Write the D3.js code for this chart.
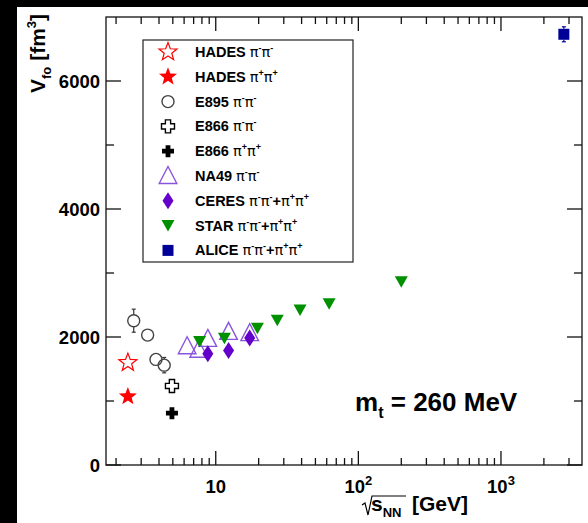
<!DOCTYPE html>
<html><head><meta charset="utf-8">
<script src="https://cdn.jsdelivr.net/npm/d3@7"></script>
<style>
body{margin:0;background:#fff}
svg{display:block}
text{font-family:"Liberation Sans",Arial,Helvetica,sans-serif;font-weight:bold;fill:#000}
</style>
</head><body>
<svg id="chart" width="588" height="523"></svg>
<script>
// Freeze-out volume V_fo (fm^3) versus collision energy sqrt(s_NN) (GeV)
const hadesMmE = [2.42], hadesMmV = [1600];
const hadesPpE = [2.42], hadesPpV = [1070];
const e895E = [2.66, 3.33, 3.81, 4.35], e895V = [2255, 2030, 1650, 1560], e895Err = [180, 50, 50, 120];
const e866MmE = [4.93], e866MmV = [1235], e866MmErr = [60];
const e866PpE = [4.93], e866PpV = [810];
const na49E = [6.3, 7.6, 8.8, 12.3, 17.3], na49V = [1855, 1800, 1970, 2080, 2060];
const ceresE = [8.8, 12.3, 17.3], ceresV = [1740, 1790, 1985];
const starE = [7.7, 11.5, 19.6, 27, 39, 62.4, 200], starV = [1930, 1980, 2135, 2260, 2420, 2520, 2865];
const aliceE = [2760], aliceV = [6730], aliceErr = [117];

const legendLabels = [
  "HADES π^{-}π^{-}", "HADES π^{+}π^{+}", "E895 π^{-}π^{-}", "E866 π^{-}π^{-}",
  "E866 π^{+}π^{+}", "NA49 π^{-}π^{-}", "CERES π^{-}π^{-}+π^{+}π^{+}",
  "STAR π^{-}π^{-}+π^{+}π^{+}", "ALICE π^{-}π^{-}+π^{+}π^{+}"
];
const legendMarkers = ["starOpen", "starFull", "circle", "crossOpen", "crossFull", "triOpen", "diamond", "triDown", "square"];

const yTicksMajor = [0, 2000, 4000, 6000];
const yTicksMinor = [1000, 3000, 5000];
const xTicksMajor = [10, 100, 1000];
const xTickLabels = [["10", ""], ["10", "2"], ["10", "3"]];

const svg = d3.select("#chart");
const L = 106, R = 582, T = 17, B = 465;
const x = d3.scaleLog().domain([1.7, 3700]).range([L, R]);
const y = d3.scaleLinear().domain([0, 7000]).range([B, T]);

// page border strips
svg.append("rect").attr("x", 0).attr("y", 0).attr("width", 588).attr("height", 523).attr("fill", "#fff");
svg.append("rect").attr("x", 0).attr("y", 0).attr("width", 17).attr("height", 523).attr("fill", "#000");
svg.append("rect").attr("x", 0).attr("y", 0).attr("width", 588).attr("height", 7).attr("fill", "#000");

// frame
svg.append("rect").attr("x", L).attr("y", T).attr("width", R - L).attr("height", B - T)
  .attr("fill", "none").attr("stroke", "#111").attr("stroke-width", 1.3);

// ticks on all four sides, pointing inward
const xMinor = [];
[1, 10, 100, 1000].forEach(d => { for (let k = 2; k <= 9; k++) { const v = d * k; if (v > 1.7 && v < 3700) xMinor.push(v); } });
const tk = svg.append("g").attr("stroke", "#111").attr("stroke-width", 1.3);
xMinor.forEach(v => {
  tk.append("line").attr("x1", x(v)).attr("x2", x(v)).attr("y1", B).attr("y2", B - 7);
  tk.append("line").attr("x1", x(v)).attr("x2", x(v)).attr("y1", T).attr("y2", T + 7);
});
xTicksMajor.forEach(v => {
  tk.append("line").attr("x1", x(v)).attr("x2", x(v)).attr("y1", B).attr("y2", B - 14);
  tk.append("line").attr("x1", x(v)).attr("x2", x(v)).attr("y1", T).attr("y2", T + 14);
});
yTicksMajor.forEach(v => {
  tk.append("line").attr("x1", L).attr("x2", L + 15).attr("y1", y(v)).attr("y2", y(v));
  tk.append("line").attr("x1", R).attr("x2", R - 15).attr("y1", y(v)).attr("y2", y(v));
});
yTicksMinor.forEach(v => {
  tk.append("line").attr("x1", L).attr("x2", L + 8).attr("y1", y(v)).attr("y2", y(v));
  tk.append("line").attr("x1", R).attr("x2", R - 8).attr("y1", y(v)).attr("y2", y(v));
});

// tick labels
yTicksMajor.forEach(v => {
  svg.append("text").attr("x", 100).attr("y", y(v) + 7).attr("text-anchor", "end")
    .style("font-size", "18.5px").text(v);
});
xTicksMajor.forEach((v, i) => {
  const t = svg.append("text").attr("x", x(v)).attr("y", 493).attr("text-anchor", "middle").style("font-size", "18.5px");
  t.append("tspan").text(xTickLabels[i][0]);
  if (xTickLabels[i][1]) t.append("tspan").attr("dy", -8).style("font-size", "13px").text(xTickLabels[i][1]);
});

// rich text with ^{} and _{} markup
function rich(t, s, size) {
  const re = /([\^_])\{([^}]*)\}/g;
  let last = 0, m, off = 0;
  const addPlain = (str) => {
    str.split(/(π)/).forEach(p => {
      if (!p) return;
      const ts = t.append("tspan").text(p).style("font-size", size + "px");
      if (p === "π") ts.style("font-weight", "normal").attr("font-family", "'DejaVu Sans',sans-serif");
      if (off) { ts.attr("dy", -off); off = 0; }
    });
  };
  while ((m = re.exec(s))) {
    if (m.index > last) addPlain(s.slice(last, m.index));
    const sh = m[1] === "^" ? -0.42 * size : 0.28 * size;
    t.append("tspan").text(m[2]).style("font-size", (0.62 * size) + "px").attr("dy", sh - off);
    off = sh;
    last = re.lastIndex;
  }
  if (last < s.length) addPlain(s.slice(last));
}

// marker shapes
function starPath(R) {
  const r = R * 0.42, p = [];
  for (let i = 0; i < 10; i++) {
    const a = -Math.PI / 2 + i * Math.PI / 5, rr = i % 2 ? r : R;
    p.push([rr * Math.cos(a), rr * Math.sin(a)]);
  }
  return "M" + p.map(q => q.join(",")).join("L") + "Z";
}
function crossPath(h, w) {
  return `M${-w},${-h}L${w},${-h}L${w},${-w}L${h},${-w}L${h},${w}L${w},${w}L${w},${h}L${-w},${h}L${-w},${w}L${-h},${w}L${-h},${-w}L${-w},${-w}Z`;
}
function marker(g, type, cx, cy) {
  const s = g.append("g").attr("transform", `translate(${cx},${cy})`);
  switch (type) {
    case "starOpen": s.append("path").attr("d", starPath(9.5)).attr("fill", "none").attr("stroke", "#ff0000").attr("stroke-width", 1.2); break;
    case "starFull": s.append("path").attr("d", starPath(9.5)).attr("fill", "#ff0000"); break;
    case "circle": s.append("circle").attr("r", 6).attr("fill", "none").attr("stroke", "#444").attr("stroke-width", 1.4); break;
    case "crossOpen": s.append("path").attr("d", crossPath(6.5, 2.6)).attr("fill", "#fff").attr("stroke", "#000").attr("stroke-width", 1.4); break;
    case "crossFull": s.append("path").attr("d", crossPath(6, 2.4)).attr("fill", "#000"); break;
    case "triOpen": s.append("path").attr("d", "M0,-9.5L8.8,7.5L-8.8,7.5Z").attr("fill", "none").attr("stroke", "#8a55dd").attr("stroke-width", 1.4); break;
    case "diamond": s.append("path").attr("d", "M0,-8.5L5.5,0L0,8.5L-5.5,0Z").attr("fill", "#6400cc"); break;
    case "triDown": s.append("path").attr("d", "M-6.5,-5.5L6.5,-5.5L0,6Z").attr("fill", "#009000"); break;
    case "square": s.append("rect").attr("x", -5.5).attr("y", -5.5).attr("width", 11).attr("height", 11).attr("fill", "#000099"); break;
  }
}
// error bars are drawn only outside the marker body
function errBars(g, E, V, Err, color, half) {
  E.forEach((e, i) => {
    const cx = x(e), cy = y(V[i]), y1 = y(V[i] + Err[i]), y2 = y(V[i] - Err[i]);
    if (cy - y1 <= half) return;
    const st = ln => ln.attr("stroke", color).attr("stroke-width", 1.2);
    st(g.append("line").attr("x1", cx).attr("x2", cx).attr("y1", y1).attr("y2", cy - half));
    st(g.append("line").attr("x1", cx).attr("x2", cx).attr("y1", cy + half).attr("y2", y2));
    st(g.append("line").attr("x1", cx - 2).attr("x2", cx + 2).attr("y1", y1).attr("y2", y1));
    st(g.append("line").attr("x1", cx - 2).attr("x2", cx + 2).attr("y1", y2).attr("y2", y2));
  });
}

// data points
const pts = svg.append("g");
errBars(pts, e895E, e895V, e895Err, "#333", 6);
errBars(pts, e866MmE, e866MmV, e866MmErr, "#000", 6.5);
errBars(pts, aliceE, aliceV, aliceErr, "#000099", 5.5);
const series = [
  [hadesMmE, hadesMmV, "starOpen"], [hadesPpE, hadesPpV, "starFull"],
  [e895E, e895V, "circle"], [e866MmE, e866MmV, "crossOpen"], [e866PpE, e866PpV, "crossFull"],
  [na49E, na49V, "triOpen"], [ceresE, ceresV, "diamond"], [starE, starV, "triDown"],
  [aliceE, aliceV, "square"]
];
series.forEach(([E, V, type]) => E.forEach((e, i) => marker(pts, type, x(e), y(V[i]))));

// legend
const lg = svg.append("g");
lg.append("rect").attr("x", 143).attr("y", 40).attr("width", 210).attr("height", 222)
  .attr("fill", "#fff").attr("stroke", "#222").attr("stroke-width", 1.2);
legendLabels.forEach((lab, i) => {
  const cy = 52 + i * 24.8;
  marker(lg, legendMarkers[i], 168, cy);
  const t = lg.append("text").attr("x", 195).attr("y", cy + 5);
  rich(t, lab, 14.5);
});

// annotation
const ann = svg.append("text").attr("x", 355).attr("y", 411);
rich(ann, "m_{t} = 260 MeV", 26);

// axis titles
const yt = svg.append("text").attr("transform", "translate(45,93) rotate(-90)");
rich(yt, "V_{fo} [fm^{3}]", 21);

svg.append("path").attr("d", "M362,505L365,503L368,515L372,496L406,496")
  .attr("fill", "none").attr("stroke", "#000").attr("stroke-width", 1.2);
const xt = svg.append("text").attr("x", 371).attr("y", 511);
rich(xt, "s_{NN}", 21);
xt.append("tspan").attr("x", 412).attr("dy", -0.28 * 21).style("font-size", "21px").text("[GeV]");
</script>
</body></html>
